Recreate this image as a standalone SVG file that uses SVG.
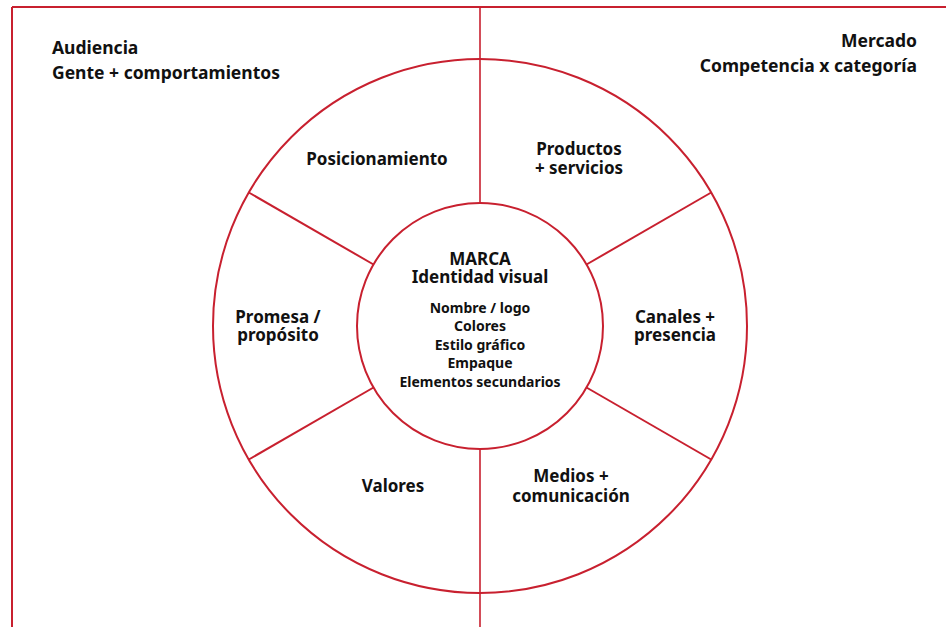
<svg xmlns="http://www.w3.org/2000/svg" width="946" height="627" viewBox="0 0 946 627">
<style>
.ln{fill:none;stroke:#c8202f;stroke-width:2}
.lt{fill:none;stroke:#c8202f;stroke-width:1.6}
text{font-family:"Noto Sans","Open Sans","Liberation Sans",sans-serif;font-weight:700;fill:#111}
.lb{font-size:17.5px}
.ct{font-size:17px;text-anchor:middle}
.sm{font-size:14px;text-anchor:middle}
.seg{font-size:17px;text-anchor:middle}
</style>
<rect width="946" height="627" fill="#fff"/>
<g id="frame">
<line class="ln" x1="12" y1="7" x2="946" y2="7"/>
<line class="ln" x1="12" y1="7" x2="12" y2="627"/>
</g>
<g id="connectors">
<line class="lt" x1="480" y1="7" x2="480" y2="203"/>
<line class="lt" x1="480" y1="449" x2="480" y2="627"/>
<line class="ln" x1="373.5" y1="264.5" x2="248.8" y2="192.5"/>
<line class="ln" x1="586.5" y1="264.5" x2="711.2" y2="192.5"/>
<line class="ln" x1="373.5" y1="387.5" x2="248.8" y2="459.5"/>
<line class="ln" x1="586.5" y1="387.5" x2="711.2" y2="459.5"/>
</g>
<g id="outer-ring">
<circle class="ln" cx="480" cy="326" r="267"/>
</g>
<g id="audiencia">
<text class="lb" x="52" y="54">Audiencia</text>
<text class="lb" x="52" y="79">Gente + comportamientos</text>
</g>
<g id="mercado">
<text class="lb" x="917" y="47" text-anchor="end">Mercado</text>
<text class="lb" x="917" y="72" text-anchor="end">Competencia x categoría</text>
</g>
<g id="marca">
<circle class="ln" cx="480" cy="326" r="123" fill="#fff"/>
<text class="ct" x="480" y="265">MARCA</text>
<text class="ct" x="480" y="282.5">Identidad visual</text>
<text class="sm" x="480" y="312.5">Nombre / logo</text>
<text class="sm" x="480" y="330.7">Colores</text>
<text class="sm" x="480" y="349.5">Estilo gráfico</text>
<text class="sm" x="480" y="368.2">Empaque</text>
<text class="sm" x="480" y="386.7">Elementos secundarios</text>
</g>
<g id="posicionamiento">
<text class="seg" x="377" y="164.5">Posicionamiento</text>
</g>
<g id="productos">
<text class="seg" x="579" y="155">Productos</text>
<text class="seg" x="579" y="174">+ servicios</text>
</g>
<g id="promesa">
<text class="seg" x="278" y="322.7">Promesa /</text>
<text class="seg" x="278" y="340.5">propósito</text>
</g>
<g id="canales">
<text class="seg" x="675" y="322.7">Canales +</text>
<text class="seg" x="675" y="340.7">presencia</text>
</g>
<g id="valores">
<text class="seg" x="393" y="491.7">Valores</text>
</g>
<g id="medios">
<text class="seg" x="571" y="482.3">Medios +</text>
<text class="seg" x="571" y="501.7">comunicación</text>
</g>
</svg>
